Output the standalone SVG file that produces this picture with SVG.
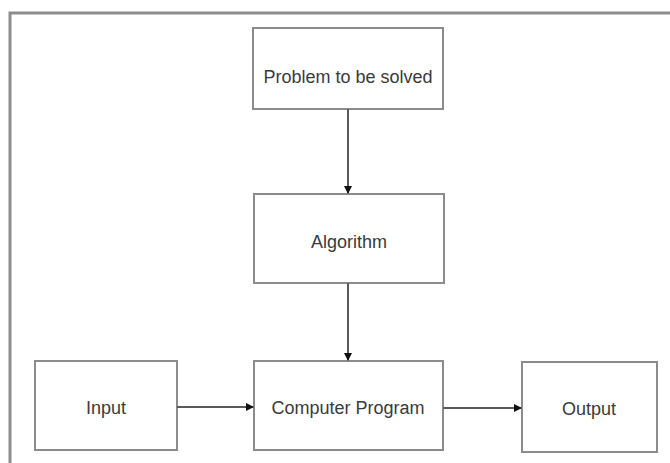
<svg xmlns="http://www.w3.org/2000/svg" width="670" height="463" viewBox="0 0 670 463">
<style>
.box{fill:#fff;stroke:#8c8c8c;stroke-width:2}
.lbl{font-family:"Liberation Sans",Arial,sans-serif;font-size:18px;fill:#3a3a3a;text-anchor:middle}
.con{stroke:#5a5a5a;stroke-width:2;fill:none;marker-end:url(#ah)}
.frame{stroke:#8c8c8c;stroke-width:3;fill:none}
</style>
<defs>
<marker id="ah" markerWidth="8" markerHeight="8" refX="7" refY="4" orient="auto" markerUnits="userSpaceOnUse">
<path d="M0,0 L8,4 L0,8 Z" fill="#111"/>
</marker>
</defs>
<rect width="670" height="463" fill="#fff"/>
<path class="frame" d="M10,463 L10,13 L670,13"/>
<g id="problem"><rect class="box" x="253" y="28" width="190" height="81"/><text class="lbl" x="348" y="83">Problem to be solved</text></g>
<g id="algorithm"><rect class="box" x="254" y="194" width="190" height="89"/><text class="lbl" x="349" y="248">Algorithm</text></g>
<g id="input"><rect class="box" x="35" y="361" width="142" height="89"/><text class="lbl" x="106" y="414">Input</text></g>
<g id="program"><rect class="box" x="254" y="361" width="189" height="89"/><text class="lbl" x="348" y="414">Computer Program</text></g>
<g id="output"><rect class="box" x="522" y="362" width="135" height="90"/><text class="lbl" x="589" y="415">Output</text></g>
<g id="connectors">
<path class="con" d="M348,109 L348,193"/>
<path class="con" d="M348,283 L348,360"/>
<path class="con" d="M177,407 L253,407"/>
<path class="con" d="M443,408 L521,408"/>
</g>
</svg>
